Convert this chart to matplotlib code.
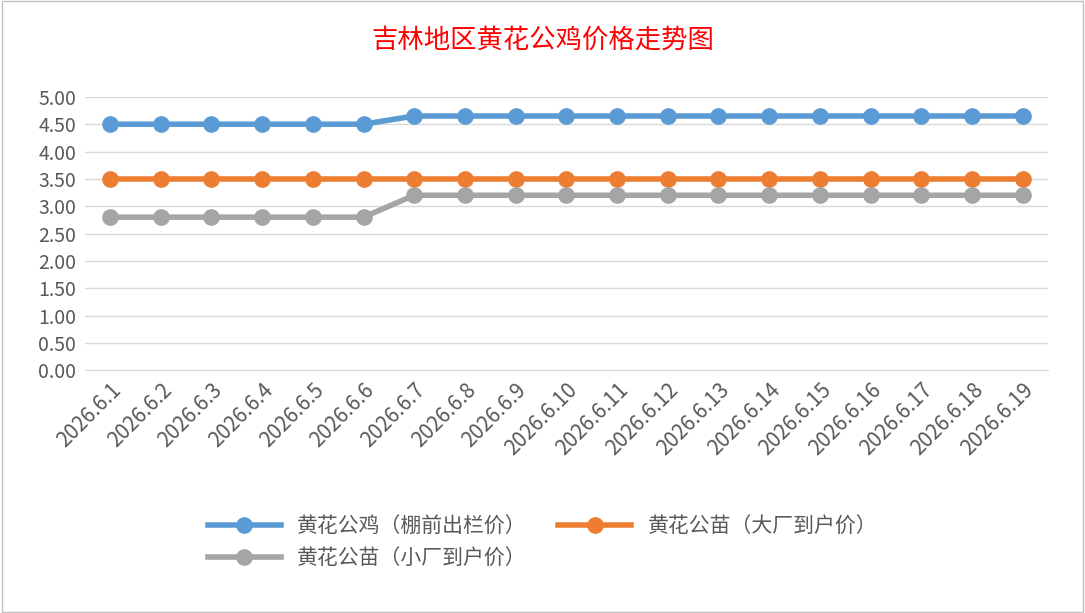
import matplotlib.pyplot as plt
from matplotlib.patches import Rectangle

plt.rcParams['font.family'] = ['Noto Sans CJK SC', 'DejaVu Sans']

dates = ["2026.6.%d" % d for d in range(1, 20)]
rooster = [4.5] * 6 + [4.65] * 13
chick_big = [3.5] * 19
chick_small = [2.8] * 6 + [3.2] * 13
yticks = [0, 0.5, 1, 1.5, 2, 2.5, 3, 3.5, 4, 4.5, 5]

fig = plt.figure(figsize=(10.85, 6.13), dpi=100)
ax = fig.add_axes([0.078, 0.396, 0.888, 0.446])
fig.patches.append(Rectangle((0.002, 0.002), 0.996, 0.996, transform=fig.transFigure,
                             fill=False, edgecolor="#bfbfbf", linewidth=1))

x = range(len(dates))
h1, = ax.plot(x, rooster, color="#5b9bd5", lw=4, marker="o", ms=11, label="黄花公鸡（棚前出栏价）")
h2, = ax.plot(x, chick_big, color="#ed7d31", lw=4, marker="o", ms=11, label="黄花公苗（大厂到户价）")
h3, = ax.plot(x, chick_small, color="#a5a5a5", lw=4, marker="o", ms=11, label="黄花公苗（小厂到户价）")

ax.set_xlim(-0.5, len(dates) - 0.5)
ax.set_ylim(0, 5)
ax.set_yticks(yticks)
ax.set_yticklabels(["%.2f" % v for v in yticks], fontsize=14, color="#595959")
ax.set_xticks(list(x))
ax.set_xticklabels(dates, rotation=45, ha="right", rotation_mode="anchor",
                   fontsize=15, color="#595959")
ax.grid(axis="y", color="#d9d9d9", lw=1)
ax.set_axisbelow(True)
for s in ["top", "right", "left"]:
    ax.spines[s].set_visible(False)
ax.spines["bottom"].set_color("#d9d9d9")
ax.tick_params(length=0, pad=6)

fig.text(0.5, 0.935, "吉林地区黄花公鸡价格走势图", color="red", fontsize=19,
         ha="center", va="center")
fig.legend([h1, h3, h2], [h1.get_label(), h3.get_label(), h2.get_label()],
           loc="lower center", bbox_to_anchor=(0.5, 0.04), ncol=2, frameon=False,
           fontsize=15, labelcolor="#595959", handlelength=3.5, columnspacing=1.5)

fig.savefig("out.png", dpi=100)
